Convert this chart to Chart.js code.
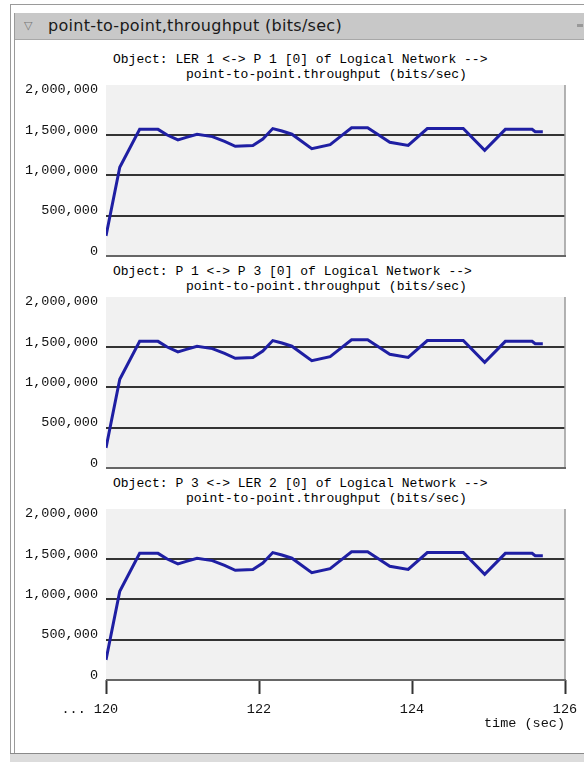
<!DOCTYPE html>
<html>
<head>
<meta charset="utf-8">
<script src="https://cdn.jsdelivr.net/npm/chart.js@4/dist/chart.umd.min.js"></script>
<style>
  body { margin: 0; width: 584px; height: 762px; background: #fff; position: relative; overflow: hidden; }
  .edge { position: absolute; background: #9a9a9a; }
  .titlebar { position: absolute; left: 15px; top: 13px; width: 569px; height: 26px; background: #c8c8c8; border-bottom: 1px solid #a8a8a8;
              font: 16px "DejaVu Sans", sans-serif; color: #1a1a1a; line-height: 26px; letter-spacing: 0.3px; }
  .titlebar .tri { position: absolute; left: 9px; top: 0; font-size: 11px; color: #777; }
  .titlebar .txt { position: absolute; left: 33px; top: 0; }
  .titlebar .min { position: absolute; right: 1px; top: 11px; width: 6px; height: 3px; background: #999; }
  .ptitle { position: absolute; white-space: pre; font: 13px "Liberation Mono", monospace; color: #000; line-height: 15px; }
  canvas { position: absolute; left: 12px; }
  .bottom { position: absolute; left: 10px; top: 753px; width: 574px; height: 9px; background: #dcdcdc; border-top: 1px solid #8a8a8a; }
</style>
</head>
<body>
<div class="edge" style="left:10px;top:4px;width:574px;height:1px"></div>
<div class="edge" style="left:10px;top:4px;width:1px;height:750px"></div>
<div class="edge" style="left:14px;top:13px;width:1px;height:740px"></div>
<div class="titlebar"><span class="tri">&#9661;</span><span class="txt">point-to-point,throughput (bits/sec)</span><span class="min"></span></div>
<div class="bottom"></div>

<div class="ptitle" id="t0a"></div><div class="ptitle" id="t0b"></div>
<div class="ptitle" id="t1a"></div><div class="ptitle" id="t1b"></div>
<div class="ptitle" id="t2a"></div><div class="ptitle" id="t2b"></div>

<canvas id="c0" width="570" height="191"></canvas>
<canvas id="c1" width="570" height="191"></canvas>
<canvas id="c2" width="570" height="237"></canvas>

<script>
// sample times (sec)
const times = [120.0, 120.18, 120.44, 120.68, 120.8, 120.94, 121.05, 121.19, 121.39, 121.55, 121.69, 121.92,
               122.05, 122.18, 122.3, 122.43, 122.69, 122.93, 123.05, 123.21, 123.42, 123.55, 123.71, 123.95,
               124.2, 124.67, 124.95, 125.22, 125.57, 125.61, 125.71];

// throughput (bits/sec) per link
const lerP1  = [250000, 1100000, 1570000, 1570000, 1500000, 1440000, 1470000, 1510000, 1480000, 1420000, 1360000, 1370000,
                1450000, 1580000, 1550000, 1510000, 1330000, 1380000, 1470000, 1590000, 1590000, 1510000, 1410000, 1370000,
                1580000, 1580000, 1310000, 1570000, 1570000, 1540000, 1540000];
const p1P3   = [250000, 1100000, 1570000, 1570000, 1500000, 1440000, 1470000, 1510000, 1480000, 1420000, 1360000, 1370000,
                1450000, 1580000, 1550000, 1510000, 1330000, 1380000, 1470000, 1590000, 1590000, 1510000, 1410000, 1370000,
                1580000, 1580000, 1310000, 1570000, 1570000, 1540000, 1540000];
const p3Ler2 = [250000, 1100000, 1570000, 1570000, 1500000, 1440000, 1470000, 1510000, 1480000, 1420000, 1360000, 1370000,
                1450000, 1580000, 1550000, 1510000, 1330000, 1380000, 1470000, 1590000, 1590000, 1510000, 1410000, 1370000,
                1580000, 1580000, 1310000, 1570000, 1570000, 1540000, 1540000];

const yTicks = [0, 500000, 1000000, 1500000, 2000000];
const xTicks = [120, 122, 124, 126];

const objects = ['LER 1 <-> P 1', 'P 1 <-> P 3', 'P 3 <-> LER 2'];
const seriesList = [lerP1, p1P3, p3Ler2];

const PANEL_STEP = 212;
const FONT = '"Liberation Mono", monospace';

// plot background and frame, like the OPNET panels
const plotFrame = {
    id: 'plotFrame',
    beforeDraw(chart) {
        const { ctx, chartArea: a } = chart;
        ctx.save();
        ctx.fillStyle = '#f1f1f1';
        ctx.fillRect(a.left, a.top, a.right - a.left, a.bottom - a.top);
        ctx.restore();
    },
    beforeDatasetsDraw(chart) {
        const { ctx, chartArea: a } = chart;
        ctx.save();
        ctx.strokeStyle = '#9a9a9a';
        ctx.lineWidth = 1.5;
        ctx.beginPath();
        ctx.moveTo(a.right, a.top);
        ctx.lineTo(a.right, a.bottom);
        ctx.stroke();
        ctx.strokeStyle = '#666';
        ctx.lineWidth = 2;
        ctx.beginPath();
        ctx.moveTo(a.left, a.bottom);
        ctx.lineTo(a.right + 1, a.bottom);
        ctx.stroke();
        ctx.restore();
    }
};

function makePanel(i) {
    const last = i === 2;
    const canvas = document.getElementById('c' + i);
    canvas.style.top = (75 + PANEL_STEP * i) + 'px';

    const ta = document.getElementById('t' + i + 'a');
    const tb = document.getElementById('t' + i + 'b');
    ta.textContent = 'Object: ' + objects[i] + ' [0] of Logical Network -->';
    tb.textContent = 'point-to-point.throughput (bits/sec)';
    ta.style.left = '113px'; ta.style.top = (52 + PANEL_STEP * i) + 'px';
    tb.style.left = '186px'; tb.style.top = (67 + PANEL_STEP * i) + 'px';

    new Chart(canvas, {
        type: 'line',
        data: {
            datasets: [{
                data: times.map((t, k) => ({ x: t, y: seriesList[i][k] })),
                borderColor: '#1f1fa3',
                borderWidth: 3,
                pointRadius: 0,
                tension: 0,
                fill: false
            }]
        },
        options: {
            responsive: false,
            animation: false,
            layout: { padding: { left: 0, right: 17, top: 10, bottom: last ? 4 : 10 } },
            plugins: { legend: { display: false }, tooltip: { enabled: false } },
            scales: {
                x: {
                    type: 'linear',
                    min: 120,
                    max: 126,
                    display: last,
                    afterBuildTicks: s => { s.ticks = xTicks.map(v => ({ value: v })); },
                    afterFit: s => { if (last) { s.height = 52; s.paddingLeft = 0; s.paddingRight = 0; } },
                    border: { display: false },
                    grid: { drawOnChartArea: false, drawTicks: true, tickLength: 14, tickColor: '#333', tickWidth: 2 },
                    ticks: {
                        padding: 7,
                        maxRotation: 0,
                        color: '#111',
                        font: { family: FONT, size: 13.5 },
                        callback: v => v === 120 ? '... 120    ' : String(v)
                    },
                    title: {
                        display: true,
                        text: 'time (sec)',
                        align: 'end',
                        color: '#111',
                        padding: { top: 0, bottom: 0 },
                        font: { family: FONT, size: 13.5 }
                    }
                },
                y: {
                    min: 0,
                    max: 2120000,
                    afterBuildTicks: s => { s.ticks = yTicks.map(v => ({ value: v })); },
                    afterFit: s => { s.width = 94; s.paddingTop = 0; s.paddingBottom = 0; },
                    border: { display: false },
                    grid: {
                        drawTicks: false,
                        lineWidth: 2,
                        color: c => (c.tick && (c.tick.value === 0 || c.tick.value === 2000000)) ? 'rgba(0,0,0,0)' : '#333'
                    },
                    ticks: {
                        padding: 8,
                        labelOffset: -5,
                        color: '#111',
                        font: { family: FONT, size: 13.5 },
                        callback: v => v.toLocaleString('en-US')
                    }
                }
            }
        },
        plugins: [plotFrame]
    });
}

[0, 1, 2].forEach(makePanel);
</script>
</body>
</html>
